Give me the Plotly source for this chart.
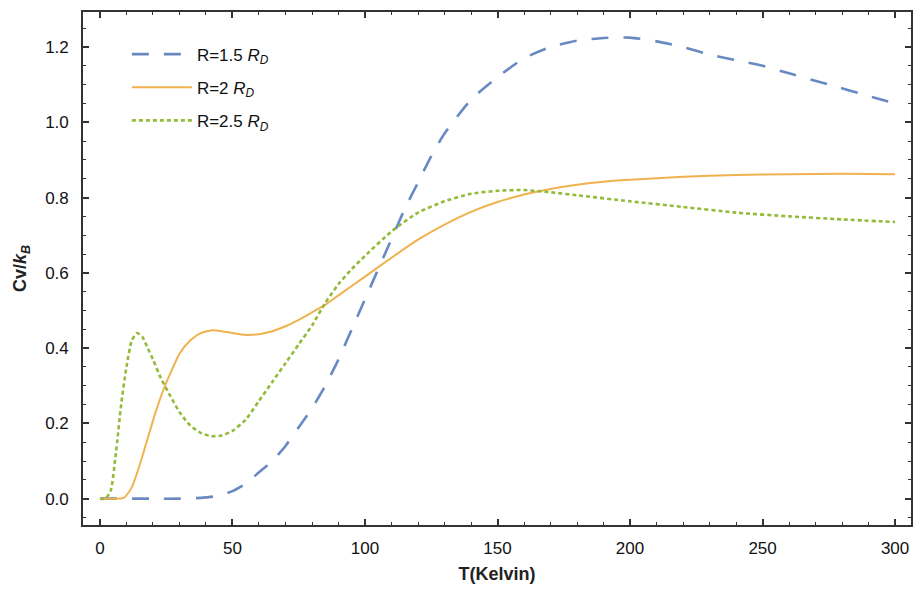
import plotly.graph_objects as go

T_blue = [0, 10, 20, 30, 38, 45, 50, 55, 60, 65, 70, 75, 80, 85, 90, 95, 100, 105, 110, 115, 120, 125, 130, 140, 150, 160, 170, 180, 190, 200, 210, 220, 230, 240, 250, 260, 275, 290, 300]
C_blue = [0, 0, 0, 0, 0.002, 0.008, 0.02, 0.04, 0.07, 0.10, 0.14, 0.19, 0.24, 0.30, 0.37, 0.45, 0.53, 0.61, 0.69, 0.77, 0.84, 0.91, 0.97, 1.06, 1.12, 1.17, 1.20, 1.217, 1.224, 1.225, 1.215, 1.20, 1.18, 1.165, 1.15, 1.13, 1.10, 1.07, 1.05]

T_orange = [0, 5, 9, 12, 15, 18, 21, 24, 27, 30, 34, 38, 42, 46, 50, 55, 60, 65, 70, 75, 80, 85, 90, 100, 110, 120, 130, 140, 150, 160, 170, 180, 190, 200, 220, 240, 260, 280, 300]
C_orange = [0, 0, 0.002, 0.03, 0.09, 0.16, 0.23, 0.29, 0.34, 0.385, 0.42, 0.44, 0.447, 0.445, 0.44, 0.435, 0.437, 0.445, 0.458, 0.475, 0.495, 0.515, 0.54, 0.59, 0.64, 0.688, 0.728, 0.762, 0.788, 0.808, 0.823, 0.834, 0.842, 0.847, 0.855, 0.86, 0.862, 0.863, 0.862]

T_green = [0, 2, 4, 6, 8, 10, 12, 14, 16, 18, 20, 23, 26, 30, 34, 38, 42, 46, 50, 55, 60, 65, 70, 75, 80, 85, 90, 95, 100, 110, 120, 130, 140, 150, 160, 170, 180, 200, 220, 240, 260, 280, 300]
C_green = [0, 0, 0.02, 0.12, 0.25, 0.35, 0.42, 0.44, 0.43, 0.40, 0.37, 0.32, 0.28, 0.23, 0.195, 0.175, 0.166, 0.168, 0.18, 0.21, 0.26, 0.31, 0.36, 0.41, 0.46, 0.52, 0.57, 0.61, 0.645, 0.71, 0.76, 0.79, 0.81, 0.818, 0.82, 0.814, 0.806, 0.79, 0.775, 0.76, 0.75, 0.742, 0.735]

x_ticks = [0, 50, 100, 150, 200, 250, 300]
y_ticks = [0, 0.2, 0.4, 0.6, 0.8, 1.0, 1.2]

names = ["R=1.5 <i>R</i><sub><i>D</i></sub>", "R=2 <i>R</i><sub><i>D</i></sub>", "R=2.5 <i>R</i><sub><i>D</i></sub>"]
colors = ["#6889C2", "#F0B24E", "#94BA3A"]

FONT = "Liberation Sans, Arial"

fig = go.Figure()
fig.add_trace(go.Scatter(x=T_blue, y=C_blue, mode="lines", name=names[0], legendgroup="a",
                         line=dict(color=colors[0], width=2.6, dash="17px,15px", shape="spline", smoothing=0.6)))
fig.add_trace(go.Scatter(x=T_orange, y=C_orange, mode="lines", name=names[1], legendgroup="b",
                         line=dict(color=colors[1], width=2.0, shape="spline", smoothing=0.6)))
fig.add_trace(go.Scatter(x=T_green, y=C_green, mode="lines", name=names[2], legendgroup="c",
                         line=dict(color=colors[2], width=2.6, dash="4px,3px", shape="spline", smoothing=0.6)))

axis_common = dict(
    showline=True, linecolor="#333", linewidth=1.6, mirror="allticks",
    ticks="inside", ticklen=6, tickwidth=1.5, tickcolor="#333",
    showgrid=False, zeroline=False,
    tickfont=dict(family=FONT, size=17, color="#111"),
)

fig.update_xaxes(range=[-6.4, 306], tickvals=x_ticks,
                 minor=dict(ticks="inside", ticklen=3, tickwidth=1.2, tickcolor="#333", dtick=10, tick0=0),
                 ticklabelstandoff=7,
                 title=dict(text="<b>T(Kelvin)</b>", font=dict(family=FONT, size=18, color="#222"), standoff=10),
                 **axis_common)
fig.update_yaxes(range=[-0.07, 1.293], tickvals=y_ticks, tickformat=".1f",
                 minor=dict(ticks="inside", ticklen=3, tickwidth=1.2, tickcolor="#333", dtick=0.05, tick0=0),
                 ticklabelstandoff=9,
                 title=dict(text="<b>Cv/<i>k</i><sub><i>B</i></sub></b>", font=dict(family=FONT, size=18, color="#222"), standoff=14),
                 **axis_common)

fig.update_layout(
    width=914, height=590,
    margin=dict(l=83, r=1, t=12, b=65),
    paper_bgcolor="white", plot_bgcolor="white",
    showlegend=True,
    legend=dict(x=0.053, y=0.952, xanchor="left", yanchor="top", bgcolor="rgba(0,0,0,0)",
                font=dict(family=FONT, size=17, color="#111"),
                tracegroupgap=8, itemwidth=60, traceorder="grouped"),
)

fig.write_html("out.html")
